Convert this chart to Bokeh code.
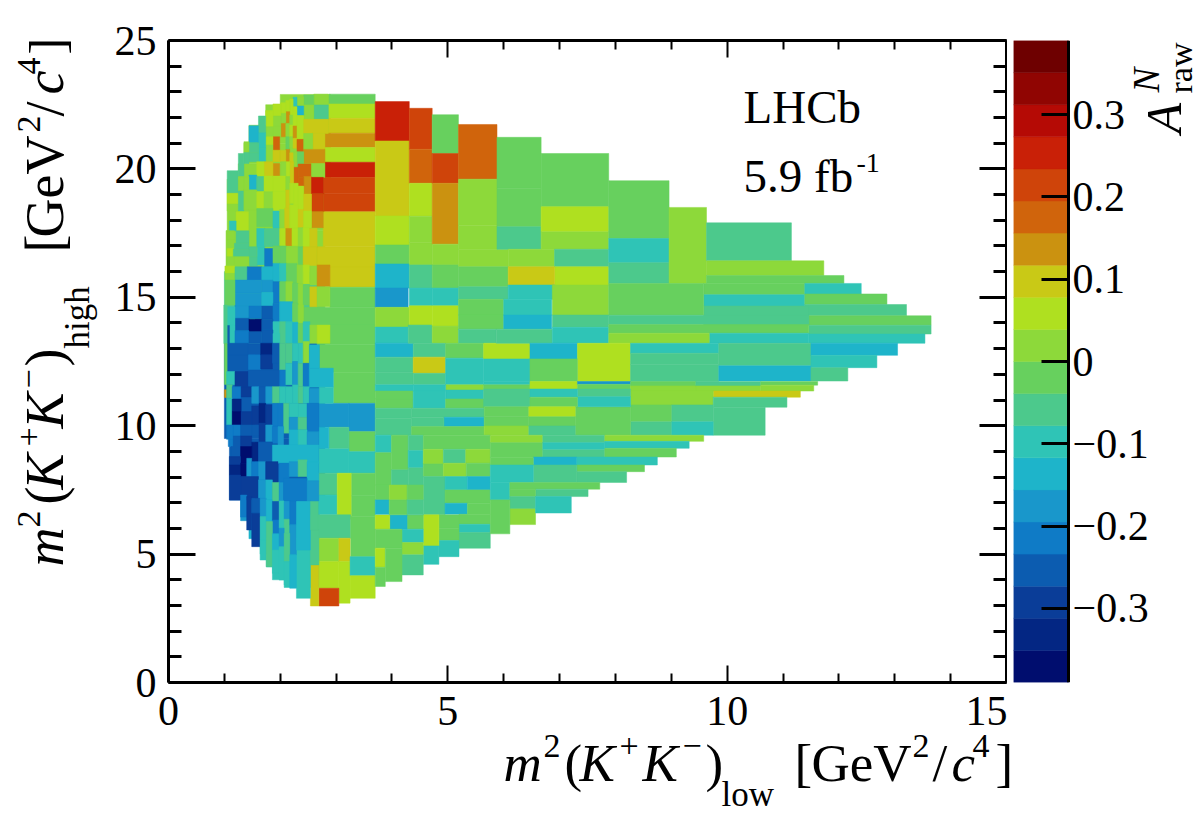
from math import pi
import numpy as np
from bokeh.embed import file_html
from bokeh.layouts import column, row
from bokeh.models import ColumnDataSource, FixedTicker, Label, LinearAxis, LinearColorMapper, Range1d
from bokeh.plotting import figure
from bokeh.resources import INLINE
from bokeh.transform import transform

# colour scale
palette = ["#000D6E","#032683","#0A3D98","#0C5CB0","#0F7BC6","#1997CB","#1EB4CA","#2FC4B6","#4CC98C","#67D05E",
           "#8DD93A","#AFE020","#C9C916","#CB9210","#D0640C","#CF440A","#C92007","#B50A05","#900502","#6E0000"]
z_low, z_high = -0.39, 0.39

# each cell: x from, x to, y from, y to, A_raw
cells_base = [
 (2.0,2.9,22.5,22.9,.02),(1.74,2.9,21.7,22.5,.02),(1.44,2.9,21.0,21.7,.02),(1.35,2.9,20.2,21.0,.02),
 (1.25,2.9,19.6,20.2,.02),(1.05,2.8,17.6,19.6,.02),(1.03,2.8,16.0,17.6,.02),(1.0,2.8,14.2,16.0,-.06),
 (1.0,2.8,13.2,14.2,-.10),(1.0,2.8,9.5,13.2,-.25),(1.09,2.8,7.1,9.5,-.25),(1.29,2.7,6.3,7.1,-.18),
 (1.44,2.7,5.6,6.3,-.14),(1.64,2.7,5.0,5.6,-.10),(1.75,2.7,4.5,5.0,-.10),(1.86,2.7,4.0,4.5,-.10),
 (2.07,2.7,3.7,4.0,-.10),
]
cells_centre = [
 (2.87,3.70,22.53,22.91,-.02),(2.87,3.70,21.97,22.53,.06),(2.86,3.70,21.39,21.97,.10),(2.80,3.70,20.83,21.39,.14),
 (2.80,3.70,20.26,20.83,.06),(2.80,3.70,19.67,20.26,.25),(2.77,3.70,19.03,19.67,.21),(2.77,3.70,18.33,19.03,.21),
 (2.77,3.70,16.97,18.33,.10),(2.65,3.70,16.18,16.97,.10),(2.89,3.70,15.39,16.18,.10),(2.89,3.70,14.61,15.39,-.02),
 (2.42,3.70,13.92,14.61,-.02),(2.66,3.70,13.15,13.92,-.02),(2.70,3.70,12.08,13.15,-.02),(2.95,3.70,10.87,12.08,-.02),
 (3.23,3.70,9.77,10.87,-.18),(2.69,3.23,9.94,10.87,-.18),(3.23,3.70,8.99,9.77,-.02),(3.23,3.70,8.15,8.99,-.10),
 (2.69,3.23,8.15,9.12,-.10),(2.87,3.23,9.12,9.94,-.06),(2.69,2.87,9.12,9.94,-.14),
 (2.68,3.02,7.30,8.15,-.06),(2.68,3.02,6.53,7.30,-.10),(3.02,3.28,6.36,8.15,.06),(3.28,3.70,7.27,8.15,-.02),
 (3.28,3.70,6.46,7.27,-.02),(2.54,3.26,5.62,6.53,-.06),(3.26,3.70,4.90,6.46,-.02),(2.69,3.05,4.71,5.62,.02),
 (2.69,3.05,3.67,4.71,.06),(3.05,3.25,4.71,5.62,.10),(3.05,3.25,3.09,4.71,.06),(2.69,3.05,2.98,3.67,.21),
 (2.54,2.69,2.98,4.58,.10),(3.25,3.70,4.16,4.90,-.10),(3.25,3.70,3.28,4.16,.06),(2.29,2.54,3.28,5.16,-.10),
 (2.54,2.69,4.58,5.94,-.06),
]
cells_col_4 = [
 (3.70,4.31,21.09,22.62,.25),(3.70,4.31,18.17,21.09,.10),(3.70,4.31,17.04,18.17,.06),(3.70,4.31,16.30,17.04,-.02),
 (3.70,4.31,15.36,16.30,-.14),(3.70,4.29,14.61,15.36,-.18),(3.70,4.31,13.84,14.61,.02),(3.70,4.29,13.21,13.84,-.10),
 (3.70,4.38,12.67,13.21,-.14),(3.70,4.38,12.08,12.67,-.06),(3.70,4.38,11.59,12.08,-.06),(3.70,4.38,11.35,11.59,-.10),
 (3.70,4.38,11.04,11.35,-.02),(3.70,4.38,10.68,11.04,-.02),(3.70,4.35,10.29,10.68,-.06),(3.70,4.35,9.63,10.29,-.06),
 (4.31,4.72,20.77,22.36,.21),(4.31,4.72,19.44,20.77,.18),(4.31,4.72,18.16,19.44,.06),(4.31,4.72,17.13,18.16,.02),
 (4.31,4.72,16.26,17.13,.02),(4.31,4.72,15.36,16.26,-.06),(4.31,4.72,14.67,15.36,-.10),(4.31,4.72,13.92,14.67,.06),
 (4.29,4.72,13.21,13.92,-.06),
 (4.72,5.19,20.60,22.11,-.02),(4.72,5.19,19.44,20.60,.21),(4.72,5.19,17.07,19.44,.14),(4.72,5.19,16.26,17.07,.02),
 (4.72,5.19,15.36,16.26,-.02),(4.72,5.19,14.67,15.36,-.10),(4.72,5.19,13.88,14.67,.06),(4.72,5.19,13.21,13.88,.02),
 (5.19,5.88,19.60,21.73,.18),(5.19,5.88,17.81,19.60,.02),(5.19,5.88,16.87,17.81,.02),(5.19,6.08,16.19,16.87,.02),
 (5.19,6.08,15.41,16.19,-.02),(5.19,6.08,14.92,15.41,-.06),(5.19,6.00,14.31,14.92,-.02),(5.19,6.00,13.76,14.31,-.02),
 (5.19,5.87,13.21,13.76,-.06),
 (4.38,4.96,12.67,13.21,-.06),(4.38,4.96,12.04,12.67,.10),(4.38,4.96,11.59,12.04,-.06),(4.96,5.64,12.63,13.21,-.02),
 (4.96,5.64,11.59,12.63,-.10),(5.64,6.47,12.60,13.21,.06),(5.64,6.47,11.72,12.60,-.10),(5.64,6.47,11.59,11.72,-.10),
 (4.96,5.64,11.39,11.59,.02),(5.64,6.47,11.43,11.59,-.02),(4.38,4.96,11.35,11.59,-.10),(4.96,5.64,11.04,11.39,-.10),
 (4.38,4.96,10.68,11.35,-.10),(4.96,5.65,10.68,11.04,-.02),(5.64,6.47,10.74,11.43,-.06),(4.35,5.65,10.33,10.68,-.06),
 (4.93,5.65,9.97,10.33,-.14),(4.35,4.93,9.97,10.33,-.06),(4.35,5.65,9.63,9.97,-.02),(5.65,6.45,10.35,10.74,-.02),
 (5.65,6.45,9.99,10.35,-.02),(5.65,6.45,9.63,9.99,.02),
]
cells_lower_mid = [
 (3.70,3.99,8.95,9.63,-.10),(3.99,4.29,8.28,9.63,-.02),(4.29,4.56,9.03,9.63,-.06),(4.29,4.56,8.36,9.03,-.10),
 (4.29,4.56,7.69,8.36,-.06),(4.56,5.76,9.08,9.63,-.02),(4.56,4.92,8.51,9.08,.02),(4.92,5.32,8.54,9.08,-.06),
 (5.32,5.76,8.54,9.08,.02),(4.56,4.92,8.02,8.51,-.02),(4.92,5.33,8.02,8.54,.02),(5.33,5.76,8.02,8.54,-.02),
 (4.56,4.95,6.53,8.02,-.06),(4.95,5.35,7.50,8.02,-.10),(5.35,5.76,7.50,8.02,-.14),(4.95,5.76,6.98,7.50,-.02),
 (4.95,5.35,6.55,6.98,-.14),(5.35,5.76,6.55,6.98,-.02),(5.20,5.76,6.16,6.55,-.02),(5.20,5.76,5.84,6.16,-.10),
 (5.20,5.76,5.23,5.84,-.06),(4.84,5.20,6.00,6.53,-.02),(4.84,5.20,5.53,6.00,-.02),(4.84,5.20,4.90,5.53,-.10),
 (4.56,4.84,5.32,6.53,.06),(4.56,4.84,4.60,5.32,-.10),(4.27,4.56,5.97,6.53,-.02),(4.18,4.56,5.45,5.97,-.10),
 (4.18,4.56,4.97,5.45,.02),(4.18,4.56,4.19,4.97,-.06),(3.96,4.27,5.97,6.53,-.14),(3.70,3.96,5.97,6.53,.06),
 (3.70,4.18,5.23,5.97,-.02),(3.70,3.88,4.49,5.23,.06),(3.70,3.88,3.74,4.49,-.02),(3.88,4.18,3.93,5.23,-.02),
 (3.70,3.99,7.69,8.95,-.02),(3.99,4.29,7.69,8.28,-.06),(3.70,3.95,7.11,7.69,-.02),(3.70,3.95,6.55,7.11,-.14),
 (3.95,4.27,7.11,7.69,.02),(3.95,4.27,6.53,7.11,-.02),(4.27,4.56,7.11,7.69,-.02),(4.27,4.56,6.53,7.11,-.06),
]
cells_upper_right = [
 (5.88,6.67,19.24,21.23,-.02),(5.88,6.67,17.75,19.24,-.02),(5.88,6.67,16.87,17.75,-.06),(6.08,6.91,16.19,16.87,.02),
 (6.67,7.88,18.53,20.60,-.02),(6.67,7.88,17.55,18.53,.06),(6.67,7.88,16.87,17.55,.02),(6.91,7.88,16.19,16.87,-.06),
 (6.91,7.88,15.48,16.19,.06),(6.08,6.91,15.48,16.19,.10),(6.08,6.91,14.92,15.48,-.10),(6.87,7.88,14.31,15.48,.02),
 (6.00,6.86,14.31,14.92,-.10),(6.00,6.86,13.76,14.31,-.14),(5.87,6.87,13.21,13.76,-.06),(6.87,7.88,13.83,14.31,-.06),
 (6.87,7.88,13.21,13.83,-.10),
 (7.88,8.96,17.29,19.54,-.02),(7.88,8.96,16.35,17.29,-.10),(7.88,8.96,15.54,16.35,-.06),(8.96,9.63,15.54,18.50,.02),
 (9.63,11.15,16.42,17.90,-.06),(9.63,11.73,15.85,16.42,.02),(9.63,12.09,15.54,15.85,-.02),(9.58,11.39,15.10,15.54,-.02),
 (11.39,12.40,15.13,15.54,-.10),(9.58,11.39,14.66,15.10,-.10),(11.39,12.86,14.72,15.13,-.02),(11.39,13.21,14.28,14.72,-.06),
 (9.58,11.46,13.92,14.66,-.06),(7.88,9.58,14.30,15.54,-.02),(11.46,13.65,13.91,14.28,-.02),(11.46,13.65,13.57,13.91,-.06),
 (7.88,11.46,13.94,14.30,-.06),(7.88,11.46,13.60,13.94,-.02),(7.88,9.69,13.21,13.60,.02),(9.69,11.46,13.21,13.60,-.10),
 (11.46,13.54,13.21,13.57,-.10),
]
cells_lower_right = [
 (6.47,7.32,12.60,13.21,-.14),(7.32,8.27,11.72,13.21,.06),(8.27,9.85,12.82,13.21,-.10),(8.27,9.85,12.38,12.82,-.06),
 (8.27,9.85,11.72,12.38,-.06),(9.85,11.50,12.33,13.21,-.06),(9.85,11.50,11.74,12.33,-.14),(11.50,13.05,12.74,13.21,-.14),
 (11.50,12.68,12.26,12.74,-.10),(11.50,12.16,11.74,12.26,-.06),(6.47,7.32,11.72,12.60,-.02),(6.47,7.32,11.43,11.72,.06),
 (7.32,8.27,11.61,11.72,-.18),(7.32,8.27,11.43,11.61,-.02),(8.27,9.44,11.55,11.72,-.02),(8.27,9.75,11.35,11.55,.02),
 (9.44,10.60,11.55,11.72,-.06),(9.44,10.60,11.35,11.55,.02),(10.60,11.62,11.58,11.72,-.02),(10.60,11.55,11.35,11.58,.02),
 (9.75,11.31,11.11,11.35,.10),(8.27,9.75,10.81,11.35,.02),(9.75,11.07,10.72,11.11,-.06),(9.75,10.68,9.63,10.72,-.06),
 (8.27,9.01,10.15,10.81,-.02),(8.27,9.01,9.63,10.15,-.06),(9.01,9.75,10.15,10.81,-.06),(9.01,9.75,9.63,10.15,-.10),
 (7.28,8.27,9.63,10.74,-.02),(7.32,8.27,11.13,11.43,-.06),(7.32,8.27,10.74,11.13,-.10),(6.47,7.32,11.11,11.43,-.10),
 (6.47,7.32,10.74,11.11,-.02),(6.45,7.28,10.35,10.74,.06),(6.45,7.28,9.99,10.35,-.02),(6.45,7.28,9.63,9.99,-.06),
 (5.76,6.70,9.34,9.63,.02),(5.76,6.70,8.77,9.34,-.02),(6.70,7.81,9.34,9.63,-.06),(6.70,7.81,9.06,9.34,-.10),
 (6.70,7.81,8.77,9.06,-.06),(7.81,9.58,9.39,9.63,.02),(7.81,9.32,9.12,9.39,-.10),(7.81,9.09,8.78,9.12,-.02),
 (6.53,7.31,8.47,8.78,-.14),(7.31,8.75,8.47,8.78,-.10),(7.31,8.52,8.21,8.47,-.02),(6.53,7.31,7.79,8.47,-.06),
 (7.31,8.20,7.79,8.21,-.06),(5.76,6.53,8.47,8.77,-.02),(5.76,6.53,7.79,8.47,-.10),(5.76,6.11,7.11,7.79,-.10),
 (6.11,7.72,7.53,7.79,-.02),(6.57,7.51,7.24,7.53,-.06),(6.11,6.57,7.24,7.53,-.02),(6.11,6.57,6.76,7.24,-.06),
 (6.11,6.57,6.15,6.76,.02),(6.57,7.21,6.60,7.24,-.10),(5.76,6.11,5.79,7.11,-.02),
]
cells_top_left = [
 (2.60,2.86,22.49,22.91,.02),(2.60,2.86,21.93,22.49,-.06),(2.42,2.60,22.49,22.88,-.02),(2.42,2.60,21.93,22.49,.02),
 (2.30,2.42,22.45,22.81,.02),(2.30,2.42,22.08,22.45,-.14),(2.23,2.30,22.42,22.79,-.10),(2.17,2.23,22.10,22.72,.06),
 (2.10,2.17,22.23,22.66,.06),(2.10,2.17,21.77,22.23,.14),(2.01,2.10,22.16,22.58,.06),(2.01,2.10,21.77,22.16,.02),
 (2.01,2.10,21.25,21.77,.14),(1.87,2.01,22.06,22.53,.06),(1.87,2.01,21.68,22.06,.02),(1.87,2.01,21.25,21.68,.02),
 (1.87,1.99,20.73,21.25,.18),(1.74,1.87,21.64,22.27,.06),(1.74,1.87,21.25,21.64,.02),(1.74,1.87,20.93,21.25,.06),
 (1.74,1.87,20.28,20.93,.02),(1.61,1.74,21.41,22.06,-.06),(1.61,1.74,20.80,21.41,-.10),(1.61,1.74,20.28,20.80,-.10),
 (1.44,1.61,21.02,21.68,-.14),(1.44,1.61,20.63,21.02,-.06),(1.44,1.61,20.28,20.63,-.06),(1.35,1.44,20.64,21.06,.02),
 (1.35,1.44,20.21,20.64,-.06),(1.25,1.35,19.70,20.60,-.06),(1.05,1.25,19.05,19.93,-.06),
 (2.10,2.17,21.25,21.77,.02),(2.10,2.17,20.76,21.25,-.02),(2.17,2.23,21.71,22.10,.02),(2.17,2.23,21.25,21.71,.06),
 (2.17,2.23,20.80,21.25,.02),(2.23,2.30,21.67,22.42,.06),(2.23,2.30,21.19,21.67,.14),(2.23,2.30,20.80,21.19,.10),
 (2.30,2.42,21.15,22.08,.06),(2.30,2.42,20.67,21.15,.18),(2.42,2.86,21.38,21.93,.10),(2.58,2.80,20.76,21.38,.10),
 (2.42,2.58,20.76,21.38,.02),(2.42,2.80,20.21,20.76,.14),(2.30,2.42,20.09,20.67,-.02),(2.24,2.30,20.09,20.67,.02),
 (2.10,2.17,20.28,20.76,.14),(2.17,2.23,20.21,20.63,.10),(1.99,2.10,20.28,20.73,.10),(1.87,1.99,20.28,20.73,.10),
 (2.32,2.56,19.67,20.19,.18),(2.56,2.80,19.67,20.21,.02),(2.24,2.32,19.44,20.06,.18),(2.17,2.24,19.44,20.28,.10),
 (2.10,2.17,19.70,20.28,.06),(2.01,2.10,19.70,20.28,.02),(1.87,1.99,19.72,20.21,.14),(1.71,1.87,19.72,20.28,.10),
 (1.58,1.71,19.72,20.28,.06),(2.42,2.56,19.02,19.70,.14),(2.32,2.42,19.33,19.67,.18),(2.56,2.77,19.03,19.67,.25),
 (2.56,2.77,18.33,19.03,.21),(2.56,2.77,17.71,18.33,.14),
 (1.05,1.25,18.63,19.05,.06),(1.05,1.25,18.36,18.63,.02),(1.09,1.21,17.97,18.36,.02),(1.25,1.35,19.14,19.70,.02),
 (1.25,1.35,18.36,19.14,-.06),(1.44,1.58,19.20,19.76,-.14),(1.35,1.44,19.18,19.70,.02),(1.58,1.71,19.14,19.70,-.06),
 (1.35,1.58,18.40,19.18,.02),(1.58,1.71,18.46,19.11,.06),(1.71,1.87,19.11,19.72,.06),(1.71,1.87,18.46,19.11,.02),
 (1.87,2.10,19.11,19.72,.06),(1.87,2.10,18.36,19.11,.06),(2.10,2.17,19.18,19.70,.02),(2.10,2.17,18.46,19.18,.10),
 (2.17,2.24,18.66,19.44,.06),(2.24,2.32,18.59,19.44,.06),(2.32,2.42,18.40,19.33,.06),(2.42,2.56,18.36,19.02,.10),
 (1.21,1.44,17.59,18.33,.06),(1.09,1.21,17.59,17.97,-.10),(1.44,1.58,16.97,18.40,.02),(1.58,1.87,17.75,18.46,-.02),
 (1.87,1.99,17.68,18.36,-.10),(1.99,2.08,17.68,18.42,.02),(2.08,2.17,17.68,18.46,.10),(2.17,2.32,17.68,18.59,.06),
 (2.32,2.42,17.71,18.42,.10),(2.42,2.56,17.71,18.36,.06),(1.21,1.44,17.10,17.59,-.06),(1.58,1.72,16.97,17.68,-.10),
 (1.72,1.99,16.97,17.68,-.06),(1.99,2.10,17.00,17.68,.06),(2.10,2.21,17.01,17.68,.14),(2.21,2.32,17.01,17.68,.06),
 (2.32,2.41,16.97,17.71,.02),(2.41,2.53,16.97,17.71,.06),(2.53,2.66,16.97,17.68,.10),(1.05,1.18,17.23,17.59,.02),
 (1.18,1.44,16.87,17.10,-.06),(1.44,1.58,16.58,16.97,-.06),
 (1.05,1.16,16.58,16.90,.06),(1.16,1.44,16.58,16.87,-.06),(1.44,1.59,16.22,16.58,-.06),(1.59,1.72,16.26,16.97,-.10),
 (1.72,1.87,16.19,16.90,-.21),(1.87,1.99,16.32,17.00,-.02),(1.99,2.11,16.32,17.00,-.02),(2.11,2.32,16.26,16.97,.02),
 (2.32,2.41,16.26,16.97,-.02),(2.41,2.65,16.19,16.97,.10),(1.04,1.18,16.22,16.58,.02),(1.18,1.44,16.22,16.58,.02),
 (1.01,1.19,15.93,16.22,.06),(1.01,1.19,15.67,15.93,.02),(1.19,1.41,15.70,16.19,-.06),(1.41,1.67,15.67,16.19,-.21),
 (1.67,1.87,15.67,16.19,-.14),(1.87,1.99,15.61,16.32,-.14),(1.99,2.11,15.61,16.32,-.10),(2.11,2.30,15.54,16.32,-.02),
 (2.30,2.41,15.52,16.26,.02),(2.41,2.53,15.52,16.26,.06),(2.53,2.66,15.48,16.22,.02),(2.66,2.89,15.41,16.26,.14),
 (1.19,1.67,15.15,15.67,-.18),(1.67,1.87,15.19,15.67,-.18),(1.87,1.99,14.76,15.61,-.21),(1.99,2.10,14.83,15.61,-.02),
 (2.10,2.22,14.76,15.61,.02),(2.22,2.32,14.76,15.54,-.02),(2.32,2.41,14.70,15.52,.02),(2.41,2.53,14.70,15.48,-.02),
 (2.53,2.66,14.63,15.41,.10),(2.66,2.89,14.63,15.41,.02),(1.19,1.67,14.66,15.15,-.18),(1.67,1.87,14.66,15.19,-.14),
 (1.01,1.19,14.70,15.67,-.02),
 (1.19,1.44,14.18,14.66,-.18),(1.44,1.67,14.18,14.66,-.21),(1.67,1.87,14.14,14.66,-.25),(1.87,1.99,14.05,14.76,-.21),
 (1.99,2.22,14.05,14.83,-.14),(2.22,2.32,14.05,14.76,-.02),(2.32,2.42,13.98,14.70,.02),(1.19,1.44,13.70,14.18,-.25),
 (1.44,1.67,13.66,14.15,-.37),(1.67,1.87,13.73,14.14,-.25),(1.87,1.99,13.59,14.05,-.10),(1.99,2.10,13.21,14.05,-.06),
 (2.10,2.22,13.21,14.05,-.10),(2.22,2.32,13.21,14.01,-.14),(2.32,2.41,13.21,13.98,-.02),(2.41,2.53,13.21,14.05,-.10),
 (2.53,2.66,13.21,13.92,.02),(2.66,2.89,13.21,13.92,.06),(1.04,1.10,13.21,13.92,-.25),(1.10,1.19,13.21,13.92,-.10),
 (1.05,1.19,13.92,14.63,-.10),(1.19,1.44,13.21,13.70,-.21),(1.44,1.67,13.21,13.66,-.25),(1.67,1.87,13.21,13.73,-.25),
 (1.87,1.99,13.21,13.59,-.10),(0.99,1.05,13.2,14.7,-.06),(1.00,1.05,11.6,13.2,-.02),
]
cells_bottom_left = [
 (1.07,1.43,12.76,13.21,-.25),(1.07,1.43,12.11,12.76,-.25),(1.04,1.19,11.59,12.11,-.10),(1.19,1.43,11.52,12.11,-.29),
 (1.43,1.65,12.17,12.76,-.21),(1.43,1.99,11.52,12.17,-.25),(1.65,1.86,12.76,13.21,-.33),(1.65,1.86,12.21,12.76,-.29),
 (1.86,1.99,12.43,13.21,-.25),(1.99,2.10,12.17,13.21,-.06),(1.99,2.10,11.52,12.17,-.21),(2.10,2.22,12.43,13.21,-.06),
 (2.10,2.22,11.59,12.43,-.10),(2.22,2.32,12.50,13.21,-.10),(2.22,2.32,11.59,12.50,-.18),(2.32,2.41,12.43,13.21,-.10),
 (2.32,2.41,11.52,12.43,-.06),(2.41,2.52,12.43,13.28,.02),(2.41,2.52,11.52,12.43,-.21),(2.52,2.70,12.24,13.15,-.14),
 (2.52,2.95,11.50,12.24,-.14),(1.00,1.04,11.1,11.4,.14),(1.04,1.14,11.07,11.59,-.06),(1.14,1.30,11.04,11.52,-.21),
 (1.30,1.49,11.10,11.52,-.29),(1.30,1.49,10.55,11.10,-.25),(1.49,1.62,10.87,11.52,-.18),(1.62,1.74,10.87,11.52,-.25),
 (1.74,1.86,10.87,11.52,-.18),(1.86,1.99,10.87,11.52,-.06),(1.99,2.10,10.87,11.52,-.10),(2.10,2.22,10.87,11.52,-.10),
 (2.22,2.32,10.87,11.59,-.10),(2.32,2.41,10.87,11.52,-.06),(2.41,2.52,10.87,11.52,-.10),(2.52,2.70,10.87,11.46,-.18),
 (2.70,2.95,10.87,11.50,-.10),
 (1.04,1.14,10.03,11.07,-.10),(1.14,1.30,10.55,11.04,-.33),(1.14,1.30,10.03,10.55,-.37),(1.30,1.49,10.03,10.55,-.29),
 (1.49,1.62,10.03,10.77,-.29),(1.62,1.74,10.10,10.87,-.33),(1.74,1.86,10.03,10.81,-.29),(1.86,1.96,9.97,10.87,-.21),
 (1.96,2.06,9.97,10.87,-.21),(2.06,2.16,9.71,10.87,-.06),(2.16,2.32,10.33,10.87,-.10),(2.16,2.32,9.84,10.33,-.18),
 (2.32,2.48,10.33,10.85,-.10),(2.32,2.48,9.84,10.33,-.06),(2.48,2.69,9.77,10.87,-.21),
 (1.04,1.16,9.47,10.03,-.21),(1.16,1.29,9.60,10.03,-.21),(1.29,1.49,9.60,10.03,-.25),(1.49,1.62,9.60,10.03,-.25),
 (1.62,1.74,9.38,10.10,-.29),(1.74,1.86,9.38,10.03,-.18),(1.86,1.96,9.32,9.97,-.21),(1.96,2.06,9.25,9.97,-.18),
 (2.16,2.32,9.25,9.84,-.14),(2.32,2.48,9.25,9.84,-.10),(2.48,2.69,9.25,9.77,-.18),
 (1.07,1.16,9.19,9.47,-.21),(1.16,1.29,9.19,9.60,-.25),(1.29,1.49,9.19,9.60,-.29),(1.49,1.61,8.60,9.36,-.33),
 (1.61,1.86,8.60,9.36,-.25),(1.86,2.69,8.54,9.25,-.14),(1.12,1.29,8.80,9.19,-.25),(1.29,1.49,8.54,9.19,-.37),
 (1.09,1.29,8.47,8.80,-.29),(1.09,1.29,8.08,8.47,-.33),(1.29,1.40,8.02,8.54,-.37),(1.40,1.49,7.82,8.73,-.18),
 (1.49,1.61,7.89,8.60,-.21),(1.61,1.74,7.89,8.60,-.18),(1.74,1.96,7.79,8.60,-.29),(1.98,2.16,7.79,8.54,-.21),
 (2.16,2.32,8.02,8.60,-.18),(2.32,2.48,8.02,8.67,-.06),(2.48,2.69,7.82,8.60,-.14),
 (1.09,1.29,7.11,8.08,-.29),(1.29,1.61,7.11,8.02,-.29),(1.61,1.74,7.17,7.89,-.18),(1.74,1.86,7.11,7.89,-.14),
 (1.86,1.98,7.05,7.79,-.06),(1.98,2.06,7.05,7.79,-.18),(2.06,2.48,7.07,7.95,-.21),(2.48,2.69,7.07,7.86,-.18),
 (1.29,1.40,6.44,7.30,-.21),(1.40,1.49,5.94,7.24,-.29),(1.49,1.64,6.59,7.17,-.25),(1.49,1.64,5.29,6.59,-.29),
 (1.64,1.75,6.46,7.17,-.18),(1.64,1.75,5.55,6.46,-.10),(1.75,1.86,6.27,7.11,-.14),(1.86,1.98,6.33,7.05,-.25),
 (1.86,1.98,5.79,6.33,-.21),(1.98,2.07,6.01,7.07,-.10),(2.07,2.17,6.36,7.05,-.18),(2.07,2.17,5.81,6.36,-.06),
 (2.17,2.29,6.14,7.07,-.21),(2.17,2.29,4.97,6.14,-.18),(2.29,2.54,5.16,7.05,-.14),(2.54,2.68,5.94,7.05,-.06),
 (1.64,1.75,4.77,5.55,-.10),(1.75,1.86,4.51,6.27,-.06),(1.86,1.98,5.16,5.79,-.14),(1.86,1.98,4.25,5.16,-.10),
 (1.98,2.07,5.29,6.01,-.18),(1.98,2.07,3.99,5.29,-.10),(2.07,2.17,4.71,5.81,-.06),(2.07,2.17,3.80,4.71,-.10),
 (2.17,2.29,3.67,4.97,-.14),
]

x_major = [0, 5, 10, 15]
y_major = [0, 5, 10, 15, 20, 25]
x_minor = [1, 2, 3, 4, 6, 7, 8, 9, 11, 12, 13, 14]
y_minor = [1, 2, 3, 4, 6, 7, 8, 9, 11, 12, 13, 14, 16, 17, 18, 19, 21, 22, 23, 24]
z_ticks = [-0.3, -0.2, -0.1, 0, 0.1, 0.2, 0.3]
z_labels = ["\u22120.3", "\u22120.2", "\u22120.1", "0", "0.1", "0.2", "0.3"]

SERIF = "Liberation Serif"
all_cells = (cells_base + cells_centre + cells_col_4 + cells_lower_mid + cells_upper_right
             + cells_lower_right + cells_top_left + cells_bottom_left)
arr = np.array(all_cells)
src = ColumnDataSource(dict(l=arr[:, 0], r=arr[:, 1], b=arr[:, 2], t=arr[:, 3], v=arr[:, 4]))
mapper = LinearColorMapper(palette=palette, low=z_low, high=z_high)

LEFT_W = 105
ROW_H = 734
BOTTOM_H = 78
FRAME_L, FRAME_B = 168, 682
p = figure(frame_width=838, frame_height=642, x_range=Range1d(0, 15), y_range=Range1d(0, 25),
           x_axis_location=None, y_axis_location=None, toolbar_location=None, output_backend="svg",
           min_border_left=FRAME_L - LEFT_W, min_border_right=1, min_border_top=40, min_border_bottom=ROW_H - FRAME_B,
           background_fill_color="white", border_fill_color="white")
p.grid.visible = False
p.outline_line_color = None
p.quad(left="l", right="r", bottom="b", top="t", source=src, fill_color=transform("v", mapper),
       line_color=transform("v", mapper), line_width=0.5)


def style_axis(ax, major, minor, maj_len, min_len, width, labels):
    ax.ticker = FixedTicker(ticks=major, minor_ticks=minor)
    ax.axis_line_color = "black"
    ax.axis_line_width = 3
    ax.major_tick_line_color = "black"
    ax.minor_tick_line_color = "black"
    ax.major_tick_line_width = width
    ax.minor_tick_line_width = width
    ax.major_tick_in = maj_len
    ax.major_tick_out = 0
    ax.minor_tick_in = min_len
    ax.minor_tick_out = 0
    ax.axis_label = None
    if labels:
        ax.major_label_text_font = SERIF
        ax.major_label_text_font_size = "42px"
        ax.major_label_text_color = "black"
    else:
        ax.major_label_overrides = {t: "" for t in major}
        ax.major_label_text_font_size = "0px"
        ax.major_label_standoff = 0


ax_b = LinearAxis(); style_axis(ax_b, x_major, x_minor, 17, 9, 2, True); ax_b.major_label_standoff = 14
ax_l = LinearAxis(); style_axis(ax_l, y_major, y_minor, 27, 13, 3, True); ax_l.major_label_standoff = 12
ax_t = LinearAxis(); style_axis(ax_t, x_major, x_minor, 17, 9, 2, False)
ax_r = LinearAxis(); style_axis(ax_r, y_major, y_minor, 27, 13, 3, False)
p.add_layout(ax_b, "below")
p.add_layout(ax_l, "left")
p.add_layout(ax_t, "above")
p.add_layout(ax_r, "right")

BASE_SHIFT = 0.39  # the page sets an alphabetic label this far past its anchor, in ems


def put(fig, left, bottom, px, py, text, size, italic=False, angle=0.0):
    if angle:
        px -= BASE_SHIFT * size
    else:
        py -= BASE_SHIFT * size
    fig.add_layout(Label(x=px - left, y=bottom - py, x_units="screen", y_units="screen", text=text,
                         text_font=SERIF, text_font_size=f"{size}px",
                         text_font_style="italic" if italic else "normal", text_color="black",
                         text_align="left", text_baseline="alphabetic", angle=angle))


def title_strip(width, height):
    f = figure(width=width, height=height, x_range=Range1d(0, width), y_range=Range1d(0, height),
               x_axis_location=None, y_axis_location=None, toolbar_location=None, output_backend="svg",
               min_border=0, background_fill_color="white", border_fill_color="white")
    f.grid.visible = False
    f.outline_line_color = None
    return f


# horizontal axis title: text, start, baseline, size, italic
xlabel_parts = [("m", 503, 783, 53, True), ("2", 543, 759, 34, False), ("(", 564, 783, 53, False),
                ("K", 579, 783, 53, True), ("+", 619, 759, 34, False), ("K", 642, 783, 53, True),
                ("\u2212", 682, 759, 34, False), (")", 705, 783, 53, False), ("low", 721, 808, 35, False),
                ("[", 794, 783, 53, False), ("GeV", 811, 783, 53, False), ("2", 912, 759, 34, False),
                ("/", 932, 783, 53, False), ("c", 951, 783, 53, True), ("4", 972, 759, 34, False),
                ("]", 995, 783, 53, False)]
bottom_strip = title_strip(1199, BOTTOM_H)
for t, px, py, s, it in xlabel_parts:
    put(bottom_strip, 0, ROW_H + BOTTOM_H, px, py, t, s, it)

# vertical axis title: text, start, baseline, size, italic
ylabel_parts = [("m", 566, 66, 54, True), ("2", 527, 42, 34, False), ("(", 504, 66, 54, False),
                ("K", 489, 66, 54, True), ("+", 446, 42, 34, False), ("K", 428, 66, 54, True),
                ("\u2212", 388, 42, 34, False), (")", 366, 66, 54, False), ("high", 348, 91, 35, False),
                ("[", 252, 66, 54, False), ("GeV", 237, 66, 54, False), ("2", 132, 42, 34, False),
                ("/", 116, 66, 54, False), ("c", 94, 66, 54, True), ("4", 74, 42, 34, False),
                ("]", 54, 66, 50, False)]
left_strip = title_strip(LEFT_W, ROW_H)
for t, py, px, s, it in ylabel_parts:
    put(left_strip, 0, FRAME_B, px, py, t, s, it, pi / 2)

put(p, FRAME_L, FRAME_B, 743, 125, "LHCb", 47)
put(p, FRAME_L, FRAME_B, 743, 194, "5.9 fb", 47)
put(p, FRAME_L, FRAME_B, 856, 173, "-1", 28)

# colour bar: the frame runs on past the bar so that its title can sit inside it
edges = np.linspace(z_low, z_high, len(palette) + 1)
BAR_W, CB_W = 55, 186
cb = figure(frame_width=CB_W, frame_height=642, x_range=Range1d(0, CB_W / BAR_W), y_range=Range1d(z_low, z_high),
            x_axis_location=None, y_axis_location=None, toolbar_location=None, output_backend="svg",
            min_border_left=6, min_border_right=0, min_border_top=40, min_border_bottom=ROW_H - FRAME_B,
            background_fill_color="white", border_fill_color="white")
cb.grid.visible = False
cb.outline_line_color = None
cb.quad(left=0, right=1, bottom=edges[:-1], top=edges[1:], fill_color=palette, line_color=palette, line_width=0.5)
ax_z = LinearAxis(fixed_location=1)
ax_z.ticker = FixedTicker(ticks=z_ticks)
ax_z.major_label_overrides = dict(zip(z_ticks, z_labels))
ax_z.axis_line_color = "black"
ax_z.axis_line_width = 3
ax_z.major_tick_line_color = "black"
ax_z.major_tick_line_width = 3
ax_z.major_tick_in = 27
ax_z.major_tick_out = 0
ax_z.minor_tick_line_color = None
ax_z.major_label_text_font = SERIF
ax_z.major_label_text_font_size = "42px"
ax_z.major_label_text_color = "black"
ax_z.major_label_standoff = 4
cb.add_layout(ax_z, "right")

put(cb, 1013, FRAME_B, 1183, 133, "A", 50, True, pi / 2)
put(cb, 1013, FRAME_B, 1160, 92, "N", 37, True, pi / 2)
put(cb, 1013, FRAME_B, 1193, 93, "raw", 34, False, pi / 2)

layout = column(row(left_strip, p, cb, spacing=0), bottom_strip, spacing=0)
open("out.html", "w").write(file_html(layout, INLINE))
